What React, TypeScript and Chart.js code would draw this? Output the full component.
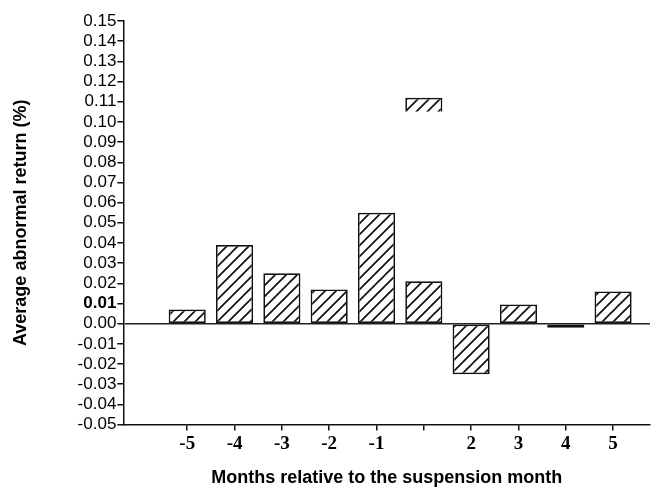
import React, { useEffect, useRef } from "react";
import { Chart, registerables } from "chart.js";

Chart.register(...registerables);

// Months relative to the suspension month (category order on the x axis)
const months = ["-5", "-4", "-3", "-2", "-1", "1", "2", "3", "4", "5"];
// Tick labels as they are printed under the axis
const tickLabels = ["-5", "-4", "-3", "-2", "-1", "", "2", "3", "4", "5"];
// Average abnormal return per month
const abnormalReturn = [0.007, 0.039, 0.025, 0.017, 0.055, 0.021, -0.025, 0.0095, -0.002, 0.016];
// Detached top fragment of the month-1 bar (low, high)
const fragmentMonth = "1";
const fragmentRange = [0.105, 0.112];
// Y axis ticks
const yMin = -0.05;
const yMax = 0.15;
const yStep = 0.01;

function makeHatch(): CanvasPattern | string {
  const c = document.createElement("canvas");
  const s = 11;
  c.width = s;
  c.height = s;
  const g = c.getContext("2d");
  if (!g) return "#fff";
  g.fillStyle = "#ffffff";
  g.fillRect(0, 0, s, s);
  g.strokeStyle = "#111";
  g.lineWidth = 1.7;
  g.beginPath();
  g.moveTo(0, s);
  g.lineTo(s, 0);
  g.moveTo(-s / 2, s / 2);
  g.lineTo(s / 2, -s / 2);
  g.moveTo(s / 2, s * 1.5);
  g.lineTo(s * 1.5, s / 2);
  g.stroke();
  const p = g.createPattern(c, "repeat");
  return p || "#fff";
}

export default function App() {
  const ref = useRef<HTMLCanvasElement | null>(null);

  useEffect(() => {
    if (!ref.current) return;
    const hatch = makeHatch();
    const fragIndex = months.indexOf(fragmentMonth);
    const chart = new Chart(ref.current, {
      type: "bar",
      data: {
        datasets: [
          {
            label: "Average abnormal return",
            data: abnormalReturn.map((y, i) => ({ x: i, y })),
            backgroundColor: hatch as any,
            borderColor: "#111",
            borderWidth: 1.7,
            borderSkipped: false,
            categoryPercentage: 0.8,
            barPercentage: 0.98,
          },
          {
            label: "fragment",
            data: [{ x: fragIndex, y: fragmentRange }] as any,
            backgroundColor: hatch as any,
            borderColor: "#111",
            borderWidth: 1.7,
            borderSkipped: "bottom",
            categoryPercentage: 0.8,
            barPercentage: 0.98,
          },
        ],
      },
      options: {
        animation: false,
        responsive: false,
        grouped: false,
        layout: { padding: { left: 6, top: 21, right: 21, bottom: 3 } },
        plugins: { legend: { display: false }, tooltip: { enabled: false } },
        scales: {
          x: {
            type: "linear",
            offset: false,
            min: -1.35,
            max: 9.78,
            afterBuildTicks: (scale: any) => {
              scale.ticks = months.map((_, i) => ({ value: i }));
            },
            ticks: {
              autoSkip: false,
              maxRotation: 0,
              padding: 2,
              color: "#000",
              font: { family: "'Liberation Serif', serif", size: 19, weight: "bold" },
              callback: (v: any) => tickLabels[Math.round(Number(v))] ?? "",
            },
            grid: { offset: false, drawOnChartArea: false, tickLength: 6, tickColor: "#111", lineWidth: 1.5 },
            border: { display: true, color: "#111", width: 1.5 },
            title: {
              display: true,
              text: "Months relative to the suspension month",
              color: "#000",
              font: { family: "'Liberation Sans', Arial, sans-serif", size: 18, weight: "bold" },
              padding: { top: 10, bottom: 0 },
            },
          },
          y: {
            min: yMin,
            max: yMax,
            ticks: {
              stepSize: yStep,
              autoSkip: false,
              padding: 1,
              color: "#000",
              callback: (v: any) => Number(v).toFixed(2),
              font: (ctx: any) => ({
                family: "'Liberation Sans', Arial, sans-serif",
                size: 17,
                weight: ctx.tick && Math.abs(ctx.tick.value - 0.01) < 1e-9 ? "bold" : "normal",
              }),
            },
            grid: {
              drawOnChartArea: true,
              tickLength: 6,
              tickColor: "#111",
              lineWidth: 1.5,
              color: (ctx: any) => (ctx.tick && Math.abs(ctx.tick.value) < 1e-9 ? "#222" : "rgba(0,0,0,0)"),
            },
            border: { display: true, color: "#111", width: 1.5 },
            title: {
              display: true,
              text: "Average abnormal return (%)",
              color: "#000",
              font: { family: "'Liberation Sans', Arial, sans-serif", size: 18, weight: "bold" },
              padding: { top: 4, bottom: 45 },
            },
          },
        },
      } as any,
    });
    return () => chart.destroy();
  }, []);

  return (
    <div style={{ position: "fixed", left: 0, top: 0, width: 671, height: 492, background: "#fff" }}>
      <canvas ref={ref} width={671} height={492} style={{ width: 671, height: 492 }} />
    </div>
  );
}
